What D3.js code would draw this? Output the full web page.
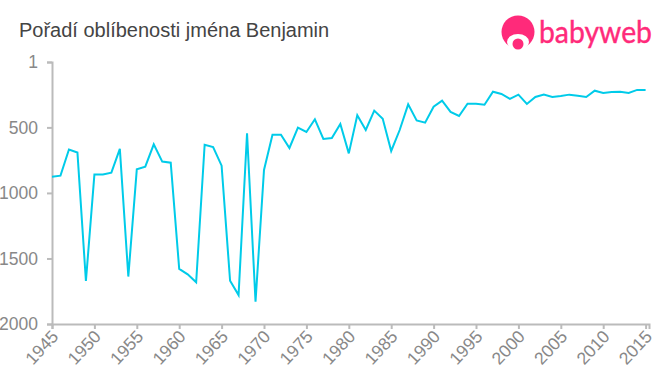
<!DOCTYPE html>
<html lang="cs">
<head>
    <meta charset="UTF-8">
    <title>Pořadí oblíbenosti jména Benjamin</title>
    <script src="https://cdnjs.cloudflare.com/ajax/libs/d3/7.8.5/d3.min.js"></script>
    <style>
        html, body { margin: 0; padding: 0; background: #fff; }
        svg { display: block; font-family: "Liberation Sans", Arial, sans-serif; }
    </style>
</head>
<body>
    <div id="wrapper"></div>
    <script>
        const chartTitle = 'Pořadí oblíbenosti jména Benjamin'
        const years = d3.range(1945, 2016)
        const ranks = [
            876, 868, 669, 692, 1672, 860, 860, 845, 664, 1638,
            820, 800, 629, 761, 769, 1580, 1621, 1682, 632, 650,
            792, 1670, 1779, 545, 1830, 825, 556, 556, 657, 502,
            535, 438, 588, 581, 474, 698, 408, 520, 372, 434,
            680, 520, 324, 447, 464, 342, 296, 382, 413, 319,
            319, 327, 228, 245, 283, 250, 321, 268, 250, 268,
            260, 250, 258, 268, 220, 237, 230, 228, 237, 214,
            214
        ]
        const yearTicks = d3.range(1945, 2016, 5)
        const rankTicks = [1, 500, 1000, 1500, 2000]

        const dimensions = {
            width: 660,
            height: 375,
            margin: { top: 62, right: 11, bottom: 51, left: 52 }
        }
        dimensions.boundedWidth = dimensions.width - dimensions.margin.left - dimensions.margin.right
        dimensions.boundedHeight = dimensions.height - dimensions.margin.top - dimensions.margin.bottom

        const wrapper = d3.select('#wrapper')
            .append('svg')
                .attr('width', dimensions.width)
                .attr('height', dimensions.height)
                .attr('viewBox', `0 0 ${dimensions.width} ${dimensions.height}`)

        wrapper.append('text')
            .attr('x', 19)
            .attr('y', 37)
            .attr('font-size', 20)
            .attr('fill', '#444')
            .text(chartTitle)

        const bounds = wrapper.append('g')
            .attr('transform', `translate(${dimensions.margin.left}, ${dimensions.margin.top})`)

        // osa x přesahuje kousek za poslední rok
        const xScale = d3.scaleLinear()
            .domain([1945, 2015.4])
            .range([0, dimensions.boundedWidth])

        const yScale = d3.scaleLinear()
            .domain([1, 2000])
            .range([0, dimensions.boundedHeight])

        const yAxis = bounds.append('g')
            .call(d3.axisLeft(yScale).tickValues(rankTicks).tickFormat(d3.format('d')).tickSize(5).tickPadding(9))

        const xAxis = bounds.append('g')
            .attr('transform', `translate(0, ${dimensions.boundedHeight})`)
            .call(d3.axisBottom(xScale).tickValues(yearTicks).tickFormat(d3.format('d')).tickSize(5).tickPadding(3))

        // osy: sedá linka, popisky větší
        for (const axis of [xAxis, yAxis]) {
            axis.select('.domain').attr('stroke', '#bbb').attr('stroke-width', 2)
            axis.selectAll('.tick line').attr('stroke', '#bbb').attr('stroke-width', 2)
            axis.selectAll('text').attr('fill', '#888').attr('font-size', 17.5)
                .attr('font-family', '"Liberation Sans", Arial, sans-serif')
        }

        xAxis.selectAll('text')
            .attr('text-anchor', 'end')
            .attr('dy', '0.7em')
            .attr('y', 5)
            .attr('transform', 'rotate(-47) translate(-5, -3)')

        const lineGenerator = d3.line()
            .x((d, i) => xScale(years[i]))
            .y(d => yScale(d))

        bounds.append('path')
            .attr('d', lineGenerator(ranks))
            .attr('fill', 'none')
            .attr('stroke', '#00cbe9')
            .attr('stroke-width', 2)

        // logo
        const logo = wrapper.append('g')
        logo.append('circle').attr('cx', 518).attr('cy', 32).attr('r', 16.5).attr('fill', '#ff2a7a')
        logo.append('ellipse').attr('cx', 518).attr('cy', 42).attr('rx', 11).attr('ry', 8).attr('fill', '#fff')
        logo.append('circle').attr('cx', 518).attr('cy', 44).attr('r', 5.5).attr('fill', '#ff2a7a')
        logo.append('text')
            .attr('x', 539)
            .attr('y', 43)
            .attr('font-family', 'Lato, sans-serif')
            .attr('font-size', 30)
            .attr('textLength', 113)
            .attr('lengthAdjust', 'spacingAndGlyphs')
            .attr('fill', '#ff2a7a')
            .attr('stroke', '#ff2a7a')
            .attr('stroke-width', 0.4)
            .text('babyweb')
    </script>
</body>
</html>
